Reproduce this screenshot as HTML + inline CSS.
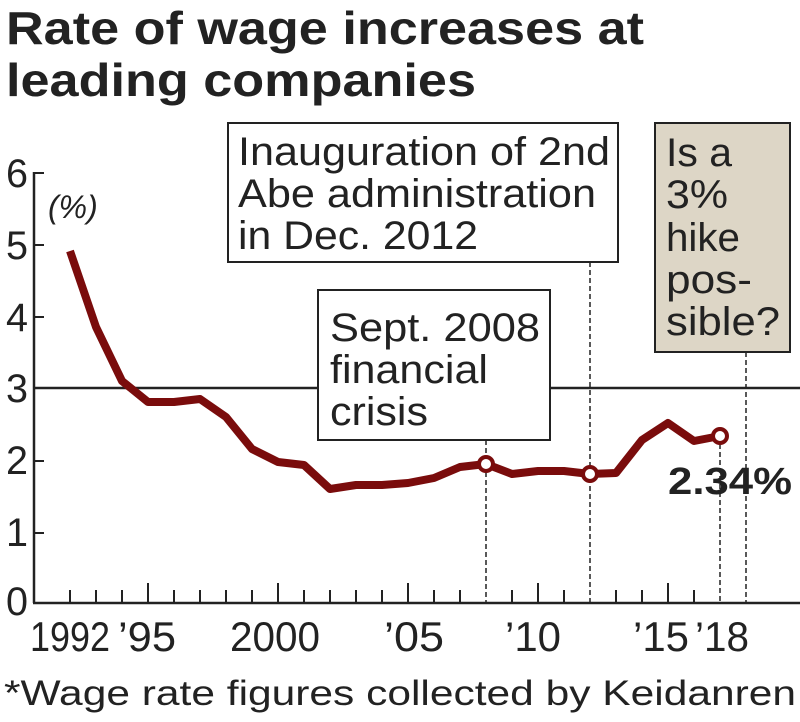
<!DOCTYPE html>
<html><head><meta charset="utf-8"><style>
body{margin:0;background:#fff;}
svg text{font-family:"Liberation Sans",sans-serif;}
</style></head><body>
<svg width="800" height="717" xmlns="http://www.w3.org/2000/svg">
<text x="6" y="44" font-size="46" font-weight="bold" fill="#222" textLength="638" lengthAdjust="spacingAndGlyphs">Rate of wage increases at</text>
<text x="6" y="96" font-size="46" font-weight="bold" fill="#222" textLength="470" lengthAdjust="spacingAndGlyphs">leading companies</text>
<line x1="34" y1="172" x2="34" y2="603" stroke="#222" stroke-width="2.5"/>
<line x1="33" y1="603" x2="800" y2="603" stroke="#222" stroke-width="2.5"/>
<g stroke="#222" stroke-width="2">
<line x1="34" y1="173" x2="44" y2="173"/><line x1="34" y1="245" x2="44" y2="245"/>
<line x1="34" y1="317" x2="44" y2="317"/><line x1="34" y1="461" x2="44" y2="461"/>
<line x1="34" y1="533" x2="44" y2="533"/>
</g>
<line x1="34" y1="388" x2="800" y2="388" stroke="#222" stroke-width="2.5"/>
<g font-size="40" fill="#222">
<text x="6" y="187" textLength="22" lengthAdjust="spacingAndGlyphs">6</text>
<text x="6" y="259" textLength="22" lengthAdjust="spacingAndGlyphs">5</text>
<text x="6" y="331" textLength="22" lengthAdjust="spacingAndGlyphs">4</text>
<text x="6" y="402" textLength="22" lengthAdjust="spacingAndGlyphs">3</text>
<text x="6" y="474" textLength="22" lengthAdjust="spacingAndGlyphs">2</text>
<text x="6" y="546" textLength="22" lengthAdjust="spacingAndGlyphs">1</text>
<text x="6" y="615" textLength="22" lengthAdjust="spacingAndGlyphs">0</text>
</g>
<text x="48" y="218" font-size="32" font-style="italic" fill="#222">(%)</text>
<g stroke="#222" stroke-width="2">
<line x1="70" y1="590" x2="70" y2="603"/><line x1="96" y1="590" x2="96" y2="603"/><line x1="122" y1="590" x2="122" y2="603"/>
<line x1="148" y1="583" x2="148" y2="603"/><line x1="174" y1="590" x2="174" y2="603"/><line x1="200" y1="590" x2="200" y2="603"/>
<line x1="226" y1="590" x2="226" y2="603"/><line x1="252" y1="590" x2="252" y2="603"/><line x1="278" y1="583" x2="278" y2="603"/>
<line x1="304" y1="590" x2="304" y2="603"/><line x1="330" y1="590" x2="330" y2="603"/><line x1="356" y1="590" x2="356" y2="603"/>
<line x1="382" y1="590" x2="382" y2="603"/><line x1="408" y1="583" x2="408" y2="603"/><line x1="434" y1="590" x2="434" y2="603"/>
<line x1="460" y1="590" x2="460" y2="603"/><line x1="512" y1="590" x2="512" y2="603"/>
<line x1="538" y1="583" x2="538" y2="603"/><line x1="564" y1="590" x2="564" y2="603"/>
<line x1="616" y1="590" x2="616" y2="603"/><line x1="642" y1="590" x2="642" y2="603"/><line x1="668" y1="583" x2="668" y2="603"/>
<line x1="694" y1="590" x2="694" y2="603"/>
</g>
<g font-size="42" fill="#222">
<text x="30" y="651" textLength="80" lengthAdjust="spacingAndGlyphs">1992</text>
<text x="118" y="651" textLength="58" lengthAdjust="spacingAndGlyphs">’95</text>
<text x="230" y="651" textLength="90" lengthAdjust="spacingAndGlyphs">2000</text>
<text x="384" y="651" textLength="60" lengthAdjust="spacingAndGlyphs">’05</text>
<text x="505" y="651" textLength="56" lengthAdjust="spacingAndGlyphs">’10</text>
<text x="633" y="651" textLength="56" lengthAdjust="spacingAndGlyphs">’15</text>
<text x="695" y="651" textLength="54" lengthAdjust="spacingAndGlyphs">’18</text>
</g>
<g stroke="#222" stroke-width="1.5" stroke-dasharray="5,3">
<line x1="486" y1="440" x2="486" y2="603"/>
<line x1="590" y1="262" x2="590" y2="603"/>
<line x1="720" y1="436" x2="720" y2="603"/>
<line x1="746" y1="352" x2="746" y2="603"/>
</g>
<rect x="228" y="123" width="390" height="139" fill="#fff" stroke="#222" stroke-width="2"/>
<g font-size="40" fill="#222">
<text x="238" y="165" textLength="372" lengthAdjust="spacingAndGlyphs">Inauguration of 2nd</text>
<text x="238" y="207" textLength="358" lengthAdjust="spacingAndGlyphs">Abe administration</text>
<text x="238" y="249" textLength="240" lengthAdjust="spacingAndGlyphs">in Dec. 2012</text></g>
<rect x="318" y="290" width="232" height="150" fill="#fff" stroke="#222" stroke-width="2"/>
<g font-size="40" fill="#222">
<text x="330" y="341" textLength="210" lengthAdjust="spacingAndGlyphs">Sept. 2008</text>
<text x="330" y="383" textLength="158" lengthAdjust="spacingAndGlyphs">financial</text>
<text x="330" y="425" textLength="98" lengthAdjust="spacingAndGlyphs">crisis</text></g>
<rect x="655" y="123" width="135" height="229" fill="#ddd6c6" stroke="#222" stroke-width="2"/>
<g font-size="40" fill="#222">
<text x="666" y="166" textLength="66" lengthAdjust="spacingAndGlyphs">Is a</text>
<text x="666" y="208" textLength="62" lengthAdjust="spacingAndGlyphs">3%</text>
<text x="666" y="251" textLength="74" lengthAdjust="spacingAndGlyphs">hike</text>
<text x="666" y="293" textLength="86" lengthAdjust="spacingAndGlyphs">pos-</text>
<text x="666" y="335" textLength="114" lengthAdjust="spacingAndGlyphs">sible?</text></g>
<polyline fill="none" stroke="#7a0c0c" stroke-width="8" stroke-linejoin="round"
points="70,251 96,327 122,381 148,402 174,402 200,399 226,417 252,449 278,462 304,465 330,489 356,485 382,485 408,483 434,478 460,467 486,464 512,474 538,471 564,471 590,474 616,473 642,440 668,423 694,441 720,436"/>
<g fill="#fff" stroke="#7a0c0c" stroke-width="4">
<circle cx="486" cy="464" r="7"/><circle cx="590" cy="474" r="7"/><circle cx="720" cy="436" r="7"/>
</g>
<text x="668" y="494" font-size="38" font-weight="bold" fill="#222" textLength="124" lengthAdjust="spacingAndGlyphs">2.34%</text>
<text x="4" y="705" font-size="35" fill="#222" textLength="792" lengthAdjust="spacingAndGlyphs">*Wage rate figures collected by Keidanren</text>
</svg>
</body></html>
